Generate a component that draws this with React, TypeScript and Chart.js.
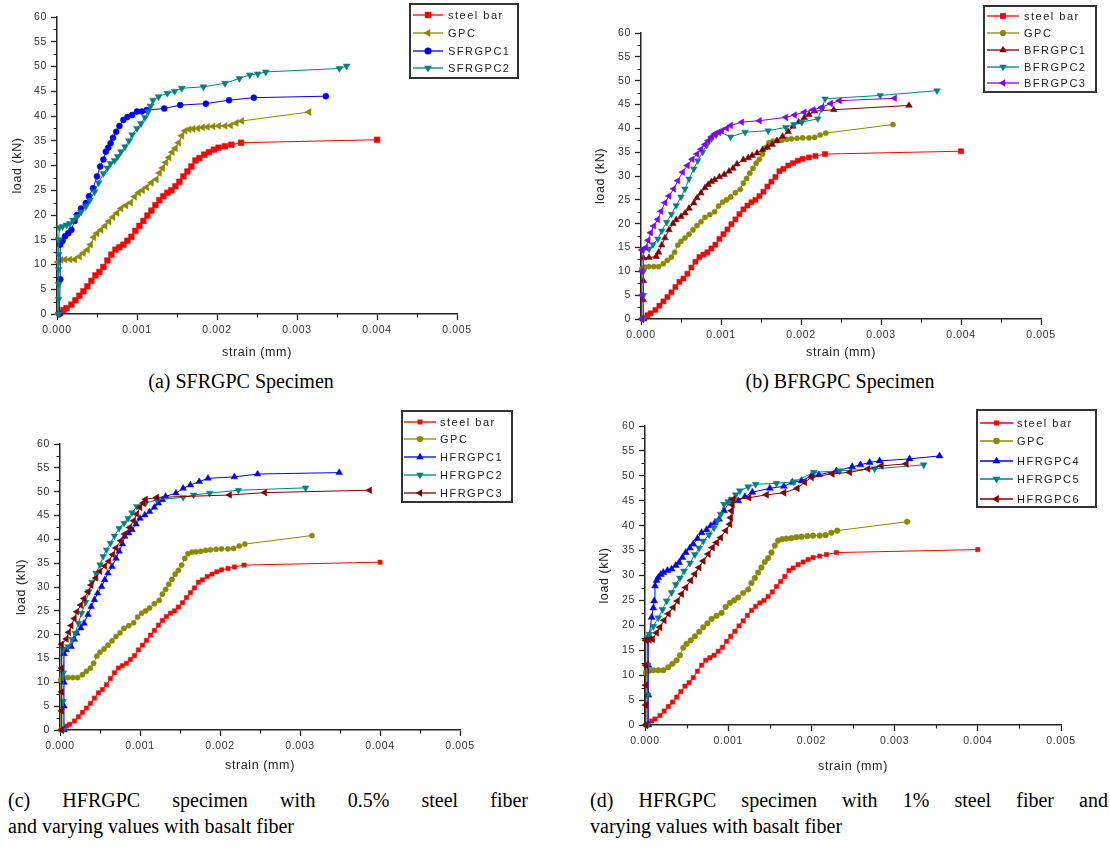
import React, { useEffect, useRef } from 'react';
import { Chart, registerables } from 'chart.js';
Chart.register(...registerables);

// ---------------- DATA ----------------
const xTicks = [0, 0.001, 0.002, 0.003, 0.004, 0.005];
const yTicks = [0, 5, 10, 15, 20, 25, 30, 35, 40, 45, 50, 55, 60];

const steelX = [0.00004, 0.00008, 0.00012, 0.00018, 0.00023, 0.00028, 0.00033, 0.00038, 0.00043, 0.00048, 0.00053, 0.00058, 0.00063, 0.00068, 0.00073, 0.00078, 0.00083, 0.00088, 0.00093, 0.00098, 0.00103, 0.00108, 0.00113, 0.00118, 0.00123, 0.00128, 0.00133, 0.00138, 0.00143, 0.00148, 0.00153, 0.00158, 0.00163, 0.00168, 0.00173, 0.00178, 0.00184, 0.0019, 0.00196, 0.00202, 0.0021, 0.00218, 0.0023, 0.004];
const steelY = [0.2, 0.8, 1.2, 1.9, 2.8, 3.7, 4.6, 5.6, 6.7, 7.8, 8.5, 9.5, 10.8, 12.0, 13.0, 13.5, 14.0, 14.8, 15.6, 16.8, 17.8, 18.8, 19.9, 20.9, 22.0, 23.0, 23.8, 24.5, 25.0, 25.8, 26.7, 27.8, 28.8, 29.8, 31.0, 31.5, 32.2, 32.7, 33.2, 33.6, 33.9, 34.2, 34.6, 35.2];

const gpcX = [0.00001, 0.00001, 0.00005, 0.0001, 0.00016, 0.00022, 0.00028, 0.00033, 0.00038, 0.00042, 0.00046, 0.0005, 0.00055, 0.0006, 0.00065, 0.0007, 0.00075, 0.0008, 0.00086, 0.00092, 0.00097, 0.00102, 0.00107, 0.00112, 0.00118, 0.00124, 0.00128, 0.00132, 0.00136, 0.0014, 0.00144, 0.00148, 0.00152, 0.00156, 0.0016, 0.00165, 0.0017, 0.00176, 0.00182, 0.00188, 0.00195, 0.00202, 0.0021, 0.00217, 0.00224, 0.00231, 0.00315];
const gpcY = [0, 10.5, 10.9, 11.0, 11.0, 11.0, 11.6, 12.3, 13.0, 14.0, 15.5, 16.3, 17.0, 17.8, 18.7, 19.6, 20.4, 21.3, 21.9, 22.5, 23.7, 24.5, 25.0, 25.6, 26.5, 27.2, 28.5, 29.5, 30.6, 31.6, 32.7, 33.5, 34.6, 36.0, 37.0, 37.3, 37.4, 37.5, 37.7, 37.8, 37.9, 38.0, 38.0, 38.1, 38.6, 39.0, 40.8];

const sfr1X = [0.00003, 0.00004, 0.00004, 0.00007, 0.0001, 0.00014, 0.00018, 0.00022, 0.00025, 0.0003, 0.00036, 0.0004, 0.00045, 0.0005, 0.00054, 0.00058, 0.00061, 0.00064, 0.00067, 0.0007, 0.00074, 0.00078, 0.00083, 0.00088, 0.00094, 0.001, 0.00106, 0.00112, 0.00134, 0.00154, 0.00186, 0.00215, 0.00246, 0.00336];
const sfr1Y = [0, 7, 14, 14.8, 15.7, 16.3, 17, 18.8, 20, 21.3, 22.4, 23.8, 25.4, 27.8, 29.8, 31.2, 32.8, 33.6, 34.5, 35.6, 36.8, 38.0, 39.2, 39.8, 40.2, 40.9, 40.9, 41.2, 41.5, 42.2, 42.5, 43.2, 43.7, 44.0];

const sfr2X = [0.00002, 0.00002, 0.00002, 0.00002, 0.00002, 0.00002, 0.00003, 0.00007, 0.00012, 0.00016, 0.0002, 0.00025, 0.0003, 0.00036, 0.00041, 0.00047, 0.00052, 0.00058, 0.00063, 0.00067, 0.00072, 0.00076, 0.0008, 0.00085, 0.0009, 0.00094, 0.001, 0.00105, 0.0011, 0.00114, 0.00117, 0.0012, 0.00127, 0.00138, 0.00147, 0.00156, 0.00183, 0.0021, 0.00228, 0.00241, 0.00251, 0.00261, 0.00353, 0.00362];
const sfr2Y = [0, 3, 6, 9, 12, 15, 17.5, 17.7, 18.0, 18.3, 19.0, 19.7, 20.6, 21.7, 23.0, 24.7, 26.5, 28.4, 29.5, 30.4, 31.0, 31.8, 32.8, 33.8, 35.0, 36.2, 37.5, 38.5, 39.7, 40.9, 42.0, 43.2, 43.9, 44.6, 45.0, 45.6, 45.9, 46.6, 47.6, 48.3, 48.5, 48.9, 49.6, 50.1];

const bfr1X = [0.00003, 0.00003, 0.00003, 0.00003, 0.0001, 0.00019, 0.00022, 0.00026, 0.0003, 0.00035, 0.0004, 0.00044, 0.0005, 0.00055, 0.0006, 0.00066, 0.0007, 0.00075, 0.0008, 0.00084, 0.00088, 0.00092, 0.00098, 0.00104, 0.0011, 0.00115, 0.0012, 0.00128, 0.00134, 0.00139, 0.00145, 0.00152, 0.00158, 0.00164, 0.0017, 0.00177, 0.00184, 0.0019, 0.00197, 0.00204, 0.0021, 0.00217, 0.00241, 0.00335];
const bfr1Y = [0, 4, 8, 12.8, 12.9, 13.1, 14.0, 15.5, 17.0, 18.7, 20.0, 20.8, 21.5, 22.2, 23.2, 24.3, 25.4, 26.4, 27.5, 28.2, 28.8, 29.2, 29.8, 30.3, 31.0, 31.6, 32.5, 33.4, 33.8, 34.3, 34.8, 35.5, 36.0, 36.6, 37.4, 38.3, 39.3, 40.4, 41.3, 42.2, 42.9, 43.6, 43.9, 44.8];

const bfr2X = [0.00003, 0.00003, 0.00003, 0.00003, 0.0001, 0.00015, 0.00021, 0.00026, 0.00032, 0.00038, 0.00044, 0.0005, 0.00055, 0.0006, 0.00066, 0.00071, 0.00077, 0.00082, 0.00088, 0.00094, 0.00099, 0.00112, 0.0013, 0.00159, 0.00181, 0.00191, 0.00201, 0.00221, 0.00226, 0.0023, 0.00299, 0.0037];
const bfr2Y = [0, 5, 10, 14.5, 14.7, 15.6, 16.8, 18.5, 20.3, 22.0, 23.8, 25.6, 27.3, 29.4, 31.5, 33.2, 35.0, 36.4, 37.8, 38.6, 39.2, 38.2, 39.2, 39.5, 40.2, 40.8, 41.3, 42.0, 44.1, 46.2, 46.9, 47.9];

const bfr3X = [0.00001, 0.00001, 0.00001, 0.00001, 0.00006, 0.00009, 0.00012, 0.00016, 0.00021, 0.00025, 0.0003, 0.00035, 0.00041, 0.00046, 0.00052, 0.00058, 0.00064, 0.0007, 0.00075, 0.0008, 0.00084, 0.00088, 0.00092, 0.00097, 0.00101, 0.00107, 0.00112, 0.00126, 0.00148, 0.00181, 0.00192, 0.00204, 0.00215, 0.00226, 0.00237, 0.00248, 0.00317];
const bfr3Y = [0, 5, 10, 14.5, 15.0, 16.5, 18.1, 19.5, 20.9, 22.6, 24.4, 25.8, 27.3, 29.0, 30.8, 32.2, 33.5, 34.6, 35.6, 36.6, 37.4, 38.2, 38.8, 39.2, 39.5, 40.0, 40.6, 41.3, 41.6, 42.3, 42.8, 43.4, 43.9, 44.4, 45.2, 45.8, 46.3];

const hfr1X = [0.00005, 0.00005, 0.00005, 0.00005, 0.00008, 0.00014, 0.00018, 0.00021, 0.00026, 0.0003, 0.00035, 0.00039, 0.00043, 0.00047, 0.00052, 0.00056, 0.0006, 0.00065, 0.0007, 0.00074, 0.00078, 0.00081, 0.00086, 0.0009, 0.00095, 0.001, 0.00106, 0.00112, 0.00118, 0.00123, 0.00128, 0.00132, 0.00145, 0.00154, 0.00163, 0.00174, 0.00185, 0.00218, 0.00247, 0.00349];
const hfr1Y = [0, 5, 10, 16, 16.8, 17.5, 19.0, 20.3, 21.4, 22.4, 24.2, 25.9, 27.3, 28.7, 30.1, 31.5, 32.9, 34.3, 36.0, 37.5, 39.0, 40.6, 41.3, 42.0, 43.2, 44.4, 45.1, 45.8, 46.7, 47.6, 48.3, 49.0, 49.7, 50.7, 51.4, 52.1, 52.8, 53.1, 53.7, 54.0];

const hfr2X = [0.00004, 0.00004, 0.00004, 0.00004, 0.0001, 0.00015, 0.00019, 0.00023, 0.00027, 0.00032, 0.00036, 0.0004, 0.00045, 0.0005, 0.00054, 0.00058, 0.00063, 0.00068, 0.00074, 0.0008, 0.00085, 0.0009, 0.00096, 0.00107, 0.00121, 0.00154, 0.00167, 0.00187, 0.00223, 0.00307];
const hfr2Y = [0, 6, 12, 17, 17.5, 19.0, 20.3, 22.4, 24.5, 26.8, 29.0, 31.0, 32.9, 34.7, 36.4, 37.8, 39.2, 40.7, 42.3, 43.4, 44.4, 45.6, 46.9, 47.6, 48.3, 48.8, 49.3, 49.7, 50.3, 50.8];

const hfr3X = [0.00002, 0.00002, 0.00002, 0.00002, 0.00002, 0.00008, 0.00011, 0.00014, 0.00018, 0.00021, 0.00026, 0.0003, 0.00035, 0.00039, 0.00045, 0.0005, 0.00056, 0.00061, 0.00066, 0.0007, 0.00076, 0.00081, 0.00087, 0.00092, 0.00096, 0.001, 0.00104, 0.00107, 0.00121, 0.00212, 0.00256, 0.00387];
const hfr3Y = [0, 4, 8, 13, 18, 19.1, 20.5, 21.9, 23.4, 24.8, 26.2, 27.6, 29.0, 30.4, 31.9, 33.3, 34.4, 35.4, 36.8, 38.2, 39.7, 41.1, 42.5, 43.9, 45.3, 46.7, 47.6, 48.4, 48.8, 49.3, 49.8, 50.3];

const hfr4X = [0.00004, 0.00004, 0.00004, 0.00004, 0.00005, 0.00008, 0.0001, 0.00011, 0.00012, 0.00014, 0.00016, 0.00019, 0.00022, 0.00027, 0.00032, 0.00037, 0.00041, 0.00045, 0.00049, 0.00054, 0.00058, 0.00063, 0.00068, 0.00074, 0.00079, 0.00084, 0.00089, 0.00095, 0.00102, 0.00112, 0.0012, 0.00129, 0.0015, 0.00167, 0.00177, 0.00188, 0.002, 0.00209, 0.0023, 0.00249, 0.00259, 0.0027, 0.00282, 0.00318, 0.00354];
const hfr4Y = [0, 6, 12, 17.5, 17.9, 21.6, 23.5, 24.9, 27.9, 29.0, 29.6, 30.2, 30.6, 31.0, 31.3, 32.0, 32.6, 33.6, 34.6, 35.5, 36.3, 37.4, 38.6, 39.2, 40.0, 40.6, 41.3, 43.0, 45.0, 45.0, 45.8, 46.7, 47.5, 47.9, 48.7, 49.0, 50.0, 50.2, 51.0, 51.8, 52.2, 52.7, 53.0, 53.4, 54.0];

const hfr5X = [0.00003, 0.00003, 0.00003, 0.00003, 0.00005, 0.0001, 0.00016, 0.00021, 0.00026, 0.00032, 0.00037, 0.00042, 0.00047, 0.00054, 0.0006, 0.00065, 0.0007, 0.00077, 0.00083, 0.00087, 0.00091, 0.00095, 0.001, 0.00104, 0.00109, 0.00114, 0.00124, 0.00133, 0.00158, 0.00179, 0.00203, 0.00234, 0.00276, 0.00335];
const hfr5Y = [0, 6, 12, 17.5, 18.2, 19.8, 21.5, 23.2, 24.9, 26.6, 28.2, 29.5, 30.9, 32.5, 34.2, 35.5, 36.9, 38.2, 39.6, 41.0, 42.3, 44.3, 44.8, 45.3, 46.2, 47.0, 47.8, 48.3, 48.5, 48.8, 50.7, 51.0, 51.4, 52.2];

const hfr6X = [0.00001, 0.00001, 0.00001, 0.00001, 0.00001, 0.00005, 0.00009, 0.00014, 0.00018, 0.00023, 0.00028, 0.00034, 0.00039, 0.00044, 0.00049, 0.00055, 0.0006, 0.00065, 0.0007, 0.00076, 0.00081, 0.00086, 0.00091, 0.00097, 0.00102, 0.00103, 0.00104, 0.00105, 0.00106, 0.00125, 0.00146, 0.00167, 0.00183, 0.00192, 0.002, 0.00225, 0.00246, 0.00268, 0.00284, 0.00314];
const hfr6Y = [0, 4, 8, 12, 17, 17.1, 17.2, 18.5, 19.6, 21.0, 22.3, 23.6, 24.9, 26.3, 27.6, 29.0, 30.3, 31.6, 32.9, 34.3, 35.6, 36.6, 37.6, 39.0, 40.3, 41.6, 43.0, 44.2, 45.3, 45.6, 46.2, 46.6, 47.5, 48.7, 49.7, 50.4, 50.7, 51.4, 52.0, 52.4];

// ---------------- STYLES ----------------
const RED = '#ff0000';
const OLIVE = '#8a8a00';
const BLUE = '#0000ff';
const TEAL = '#008080';
const DARKRED = '#800000';
const VIOLET = '#8000ff';
const AXIS = '#222';
const SANS = '"Liberation Sans", Arial, sans-serif';

type Series = { label: string; xs: number[]; ys: number[]; color: string; style: string; rot: number; r: number };
type Panel = {
  canvas: { left: number; top: number; width: number; height: number };
  area: { L: number; T: number; R: number; B: number };
  yTitleX: number;
  xTitleY: number;
  series: Series[];
  legend: { box: number[]; rows: number[]; line: number[]; textX: number };
};

const S = (label: string, xs: number[], ys: number[], color: string, style: string, rot: number, r: number): Series =>
  ({ label, xs, ys, color, style, rot, r });

const panels: Panel[] = [
  {
    canvas: { left: 0, top: 0, width: 555, height: 365 },
    area: { L: 57, T: 17, R: 457, B: 314 },
    yTitleX: 18, xTitleY: 353,
    series: [
      S('steel bar', steelX, steelY, RED, 'rect', 0, 4),
      S('GPC', gpcX, gpcY, OLIVE, 'triangle', -90, 4),
      S('SFRGPC1', sfr1X, sfr1Y, BLUE, 'circle', 0, 3),
      S('SFRGPC2', sfr2X, sfr2Y, TEAL, 'triangle', 180, 4),
    ],
    legend: { box: [410, 4, 108, 74], rows: [15, 33, 51, 68], line: [413, 443], textX: 448 },
  },
  {
    canvas: { left: 560, top: 0, width: 550, height: 365 },
    area: { L: 641, T: 33, R: 1041, B: 319 },
    yTitleX: 601, xTitleY: 353,
    series: [
      S('steel bar', steelX, steelY, RED, 'rect', 0, 3.6),
      S('GPC', gpcX, gpcY, OLIVE, 'circle', 0, 2.6),
      S('BFRGPC1', bfr1X, bfr1Y, DARKRED, 'triangle', 0, 3.8),
      S('BFRGPC2', bfr2X, bfr2Y, TEAL, 'triangle', 180, 3.8),
      S('BFRGPC3', bfr3X, bfr3Y, VIOLET, 'triangle', -90, 3.8),
    ],
    legend: { box: [984, 6, 112, 86], rows: [16, 33, 50, 67, 83], line: [987, 1019], textX: 1024 },
  },
  {
    canvas: { left: 0, top: 400, width: 555, height: 385 },
    area: { L: 60, T: 444, R: 460, B: 730 },
    yTitleX: 22, xTitleY: 766,
    series: [
      S('steel bar', steelX, steelY, RED, 'rect', 0, 3),
      S('GPC', gpcX, gpcY, OLIVE, 'circle', 0, 2.6),
      S('HFRGPC1', hfr1X, hfr1Y, BLUE, 'triangle', 0, 3.8),
      S('HFRGPC2', hfr2X, hfr2Y, TEAL, 'triangle', 180, 3.8),
      S('HFRGPC3', hfr3X, hfr3Y, DARKRED, 'triangle', -90, 3.8),
    ],
    legend: { box: [402, 411, 110, 91], rows: [422, 439, 457, 475, 493], line: [404, 436], textX: 440 },
  },
  {
    canvas: { left: 560, top: 400, width: 550, height: 385 },
    area: { L: 645, T: 426, R: 1061, B: 725 },
    yTitleX: 605, xTitleY: 767,
    series: [
      S('steel bar', steelX, steelY, RED, 'rect', 0, 3),
      S('GPC', gpcX, gpcY, OLIVE, 'circle', 0, 2.8),
      S('HFRGPC4', hfr4X, hfr4Y, BLUE, 'triangle', 0, 4),
      S('HFRGPC5', hfr5X, hfr5Y, TEAL, 'triangle', 180, 4),
      S('HFRGPC6', hfr6X, hfr6Y, DARKRED, 'triangle', -90, 4),
    ],
    legend: { box: [977, 410, 119, 97], rows: [423, 441, 461, 479, 499], line: [980, 1013], textX: 1017 },
  },
];

function drawMarker(ctx: CanvasRenderingContext2D, style: string, rot: number, x: number, y: number, r: number, color: string) {
  ctx.save();
  ctx.fillStyle = color;
  ctx.strokeStyle = color;
  ctx.translate(x, y);
  ctx.rotate((rot * Math.PI) / 180);
  ctx.beginPath();
  if (style === 'rect') {
    const s = r * Math.SQRT1_2;
    ctx.rect(-s, -s, 2 * s, 2 * s);
  } else if (style === 'circle') {
    ctx.arc(0, 0, r, 0, Math.PI * 2);
  } else {
    let a = 0;
    ctx.moveTo(Math.sin(a) * r, -Math.cos(a) * r);
    a += (2 * Math.PI) / 3;
    ctx.lineTo(Math.sin(a) * r, -Math.cos(a) * r);
    a += (2 * Math.PI) / 3;
    ctx.lineTo(Math.sin(a) * r, -Math.cos(a) * r);
    ctx.closePath();
  }
  ctx.fill();
  ctx.restore();
}

const spacingPlugin = {
  id: 'spacing',
  beforeDraw(chart: any) {
    (chart.ctx as any).letterSpacing = '0.6px';
  },
};

const minorTicksPlugin = {
  id: 'minorTicks',
  afterDraw(chart: any) {
    const { ctx, chartArea, scales } = chart;
    ctx.save();
    ctx.strokeStyle = AXIS;
    ctx.lineWidth = 1.2;
    ctx.beginPath();
    for (let i = 0; i < yTicks.length - 1; i++) {
      const v = (yTicks[i] + yTicks[i + 1]) / 2;
      const py = Math.round(scales.y.getPixelForValue(v)) + 0.5;
      ctx.moveTo(chartArea.left - 3.5, py);
      ctx.lineTo(chartArea.left, py);
    }
    for (let i = 0; i < xTicks.length - 1; i++) {
      const v = (xTicks[i] + xTicks[i + 1]) / 2;
      const px = Math.round(scales.x.getPixelForValue(v)) + 0.5;
      ctx.moveTo(px, chartArea.bottom);
      ctx.lineTo(px, chartArea.bottom + 3.5);
    }
    ctx.stroke();
    ctx.restore();
  },
};

const boxLegendPlugin = {
  id: 'boxLegend',
  afterDraw(chart: any, _args: any, opts: any) {
    const { ctx } = chart;
    const { legend, series, offX, offY } = opts;
    if (!legend) return;
    ctx.save();
    const [bx, by, bw, bh] = legend.box;
    ctx.strokeStyle = '#333';
    ctx.lineWidth = 2;
    ctx.strokeRect(bx - offX, by - offY, bw, bh);
    ctx.font = `11px ${SANS}`;
    (ctx as any).letterSpacing = '1.5px';
    ctx.textBaseline = 'middle';
    ctx.textAlign = 'left';
    series.forEach((s: Series, i: number) => {
      const y = legend.rows[i] - offY;
      const x0 = legend.line[0] - offX;
      const x1 = legend.line[1] - offX;
      ctx.strokeStyle = s.color;
      ctx.lineWidth = 1.3;
      ctx.beginPath();
      ctx.moveTo(x0, y);
      ctx.lineTo(x1, y);
      ctx.stroke();
      drawMarker(ctx, s.style, s.rot, (x0 + x1) / 2, y, s.r + 0.5, s.color);
      ctx.fillStyle = '#222';
      ctx.fillText(s.label, legend.textX - offX, y + 0.5);
    });
    ctx.restore();
  },
};

function PanelChart({ p }: { p: Panel }) {
  const ref = useRef<HTMLCanvasElement | null>(null);
  useEffect(() => {
    if (!ref.current) return;
    const c = p.canvas;
    const a = p.area;
    const tickFont = { family: SANS, size: 10.5 };
    const titleSize = 12.5;
    const titleLH = titleSize * 1.2;
    const n = p.series.length;
    const chart = new Chart(ref.current, {
      type: 'line',
      data: {
        datasets: p.series.map((s, i) => ({
          label: s.label,
          data: s.xs.map((x, k) => ({ x, y: s.ys[k] })),
          borderColor: s.color,
          backgroundColor: s.color,
          borderWidth: 1,
          pointStyle: s.style as any,
          pointRotation: s.rot,
          pointRadius: s.r,
          pointBorderWidth: 0.5,
          pointBackgroundColor: s.color,
          pointBorderColor: s.color,
          tension: 0,
          fill: false,
          clip: false as any,
          order: n - i,
        })),
      },
      options: {
        animation: false,
        responsive: false,
        events: [],
        layout: { padding: { left: 0, top: a.T - c.top, right: c.left + c.width - a.R, bottom: 0 } },
        plugins: {
          legend: { display: false },
          tooltip: { enabled: false },
          boxLegend: { legend: p.legend, series: p.series, offX: c.left, offY: c.top },
        } as any,
        scales: {
          x: {
            type: 'linear',
            min: xTicks[0],
            max: xTicks[xTicks.length - 1],
            afterFit: (s: any) => { s.height = c.top + c.height - a.B; },
            afterBuildTicks: (s: any) => { s.ticks = xTicks.map((v) => ({ value: v })); },
            ticks: {
              callback: (v: any) => Number(v).toFixed(3),
              font: tickFont, color: '#333', padding: 4, maxRotation: 0, autoSkip: false,
            },
            grid: { drawOnChartArea: false, drawTicks: true, tickLength: 6, tickColor: AXIS, tickWidth: 1.3 },
            border: { display: true, color: AXIS, width: 1.5 },
            title: {
              display: true, text: 'strain (mm)', color: '#222',
              font: { family: SANS, size: titleSize },
              padding: { top: 0, bottom: c.top + c.height - p.xTitleY - titleLH / 2 },
            },
          },
          y: {
            type: 'linear',
            min: yTicks[0],
            max: yTicks[yTicks.length - 1],
            afterFit: (s: any) => { s.width = a.L - c.left; },
            afterBuildTicks: (s: any) => { s.ticks = yTicks.map((v) => ({ value: v })); },
            ticks: { font: tickFont, color: '#333', padding: 4, autoSkip: false },
            grid: { drawOnChartArea: false, drawTicks: true, tickLength: 6, tickColor: AXIS, tickWidth: 1.3 },
            border: { display: true, color: AXIS, width: 1.5 },
            title: {
              display: true, text: 'load (kN)', color: '#222',
              font: { family: SANS, size: titleSize },
              padding: { top: p.yTitleX - c.left - titleLH / 2, bottom: 0 },
            },
          },
        },
      } as any,
      plugins: [spacingPlugin, minorTicksPlugin, boxLegendPlugin] as any,
    });
    return () => chart.destroy();
  }, [p]);
  const c = p.canvas;
  return (
    <canvas
      ref={ref}
      width={c.width}
      height={c.height}
      style={{ position: 'absolute', left: c.left, top: c.top, width: c.width, height: c.height }}
    />
  );
}

const capStyle: React.CSSProperties = {
  position: 'absolute',
  fontFamily: '"Liberation Serif", "Times New Roman", serif',
  fontSize: 20,
  lineHeight: '24px',
  color: '#000',
  whiteSpace: 'nowrap',
};

export default function App() {
  return (
    <div style={{ position: 'absolute', left: 0, top: 0, width: 1110, height: 848, background: '#fff', overflow: 'hidden' }}>
      {panels.map((p, i) => <PanelChart key={i} p={p} />)}
      <div style={{ ...capStyle, left: 0, top: 369, width: 482, textAlign: 'center' }}>(a) SFRGPC Specimen</div>
      <div style={{ ...capStyle, left: 600, top: 369, width: 480, textAlign: 'center' }}>(b) BFRGPC Specimen</div>
      <div style={{ ...capStyle, left: 8, top: 788, width: 520, textAlign: 'justify', textAlignLast: 'justify' as any, whiteSpace: 'normal' }}>(c) HFRGPC specimen with 0.5% steel fiber</div>
      <div style={{ ...capStyle, left: 8, top: 814 }}>and varying values with basalt fiber</div>
      <div style={{ ...capStyle, left: 590, top: 788, width: 518, textAlign: 'justify', textAlignLast: 'justify' as any, whiteSpace: 'normal' }}>(d) HFRGPC specimen with 1% steel fiber and</div>
      <div style={{ ...capStyle, left: 590, top: 814 }}>varying values with basalt fiber</div>
    </div>
  );
}
